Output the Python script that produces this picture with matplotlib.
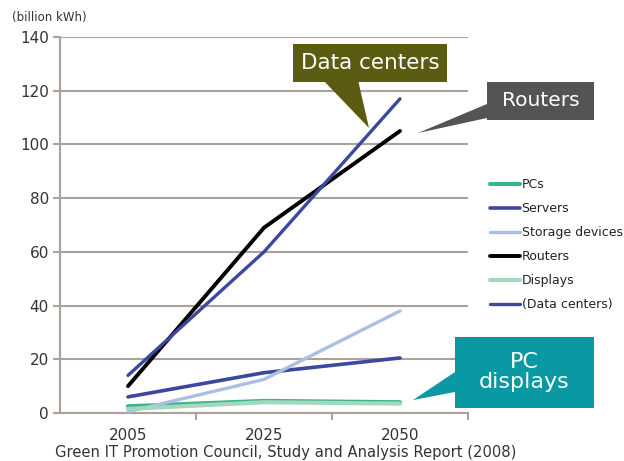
import matplotlib
matplotlib.use("Agg")
import matplotlib.pyplot as plt
from matplotlib.patches import Polygon, Rectangle

years = ["2005", "2025", "2050"]
pcs = [2.5, 4.5, 4.0]
servers = [6.0, 15.0, 20.5]
storage = [0.5, 12.5, 38.0]
routers = [10.0, 69.0, 105.0]
displays = [1.5, 4.0, 3.5]
data_centers = [14.0, 60.0, 117.0]
series_names = ["PCs", "Servers", "Storage devices", "Routers", "Displays", "(Data centers)"]

W, H = 624, 461
fig = plt.figure(figsize=(W / 100, H / 100), dpi=100)
ax = fig.add_axes([60 / W, 1 - 413 / H, (468 - 60) / W, (413 - 37) / H])

x = list(range(len(years)))
styles = [
    (pcs, "#3bb58a", 3.0),
    (servers, "#3c47a0", 2.6),
    (storage, "#a9bfe3", 2.4),
    (routers, "#000000", 2.8),
    (displays, "#a3d8bd", 3.0),
    (data_centers, "#3c47a0", 2.4),
]
handles = []
for (vals, col, lw), name in zip(styles, series_names):
    h, = ax.plot(x, vals, color=col, lw=lw, solid_capstyle="round", label=name, zorder=3)
    handles.append(h)

ax.set_xlim(-0.5, 2.5)
ax.set_ylim(0, 140)
ax.set_yticks(range(0, 141, 20))
ax.set_xticks(x)
ax.set_xticklabels(years)
ax.set_xticks([0.5, 1.5, 2.5], minor=True)
grid_col = "#aaa29b"
ax.yaxis.grid(True, color=grid_col, lw=1.5)
ax.set_axisbelow(True)
for s in ["top", "right"]:
    ax.spines[s].set_visible(False)
for s in ["left", "bottom"]:
    ax.spines[s].set_color(grid_col)
    ax.spines[s].set_linewidth(1.5)
ax.tick_params(axis="x", which="major", length=0, labelsize=11, colors="#333333", pad=16)
ax.tick_params(axis="x", which="minor", length=5, color=grid_col, width=1.5)
ax.tick_params(axis="y", length=5, color=grid_col, width=1.5, labelsize=11, labelcolor="#333333", pad=3)
for lab in ax.get_xticklabels():
    lab.set_verticalalignment("center")

fig.text(12 / W, 1 - 17 / H, "(billion kWh)", fontsize=8.5, color="#333333", va="center")
fig.text(286 / W, 1 - 452 / H, "Green IT Promotion Council, Study and Analysis Report (2008)",
         fontsize=10.6, color="#333333", ha="center", va="center")

leg = fig.legend(handles=handles, loc="upper left", bbox_to_anchor=(484 / W, 1 - 172 / H),
                 frameon=False, fontsize=9, handlelength=2.4, handletextpad=0.1,
                 labelspacing=0.88, borderpad=0)
for t in leg.get_texts():
    t.set_color("#222222")


def P(px, py):
    return (px / W, 1 - py / H)


def callout(box, tip, base, color, text, fs):
    x0, y0, x1, y1 = box
    fig.patches.append(Polygon([P(*base[0]), P(*base[1]), P(*tip)], closed=True,
                               transform=fig.transFigure, facecolor=color, edgecolor="none", zorder=5))
    fig.patches.append(Rectangle(P(x0, y1), (x1 - x0) / W, (y1 - y0) / H,
                                 transform=fig.transFigure, facecolor=color, edgecolor="none", zorder=5))
    fig.text(*P((x0 + x1) / 2, (y0 + y1) / 2), text, ha="center", va="center",
             color="white", fontsize=fs, zorder=6, linespacing=1.0)


callout((293, 44, 447, 82), (369, 128), [(323, 80), (358, 80)], "#5b5b12", "Data centers", 15.5)
callout((487, 82, 594, 120), (418, 133), [(487, 104), (487, 118)], "#545454", "Routers", 14.5)
callout((455, 337, 594, 408), (413, 400), [(455, 372), (455, 392)], "#0a98a3", "PC\ndisplays", 16)

fig.savefig("out.png", dpi=100)
